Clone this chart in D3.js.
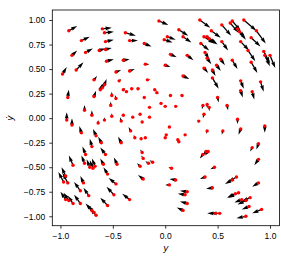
<!DOCTYPE html>
<html>
<head>
<meta charset="utf-8">
<script src="https://cdn.jsdelivr.net/npm/d3@7"></script>
<style>
  body { margin: 0; background: #fff; }
  svg { display: block; font-family: "DejaVu Sans", sans-serif; }
  .axis text { font-size: 8.5px; fill: #000; }
  .axis line { stroke: #000; stroke-width: 0.8; }
</style>
</head>
<body>
<svg id="chart" width="281" height="266"></svg>
<script>
// sample points: [y, ydot, dy, dydot]
var upperLeft = [
  [-0.92, 0.89, 0.08, 0.05], [-0.60, 0.91, 0.09, 0.01], [-0.58, 0.87, 0.09, 0.01],
  [-0.38, 0.87, 0.10, -0.03], [-0.34, 0.79, 0.08, 0.00], [-0.80, 0.79, 0.08, 0.04],
  [-0.57, 0.78, 0.08, 0.02], [-0.76, 0.67, 0.07, 0.04], [-0.63, 0.69, 0.06, 0.02],
  [-0.57, 0.70, 0.06, 0.015], [-0.89, 0.64, 0.05, 0.05], [-0.85, 0.49, 0.07, 0.08],
  [-0.56, 0.58, 0.07, 0.02], [-0.40, 0.59, 0.06, 0.01], [-0.98, 0.45, 0.04, 0.07],
  [-0.68, 0.39, 0.03, 0.04], [-0.47, 0.47, 0.05, 0.02], [-0.44, 0.38, 0.02, 0.02],
  [-0.34, 0.48, 0.05, 0.02], [-0.20, 0.76, 0.07, -0.03], [-0.19, 0.55, 0.04, 0.00],
  [-0.17, 0.39, 0.03, 0.00], [-0.93, 0.21, 0.01, 0.08], [-0.68, 0.22, 0.02, 0.06],
  [-0.62, 0.29, 0.02, 0.06], [-0.60, 0.31, 0.02, 0.06], [-0.58, 0.34, 0.02, 0.06],
  [-0.40, 0.29, 0.02, 0.015], [-0.37, 0.27, 0.02, 0.01], [-0.32, 0.30, 0.02, 0.00],
  [-0.26, 0.30, 0.02, 0.00], [-0.10, 0.29, 0.02, -0.01], [-0.08, 0.26, 0.02, -0.01],
  [-0.47, 0.20, -0.01, 0.035], [-0.51, 0.23, 0.00, 0.04], [-0.52, 0.13, 0.00, 0.04],
  [-0.20, 0.21, 0.01, 0.00], [-0.15, 0.11, 0.00, 0.00], [-0.04, 0.15, 0.00, 0.00],
  [0.00, 0.12, 0.00, 0.00], [-0.77, 0.08, 0.00, 0.055], [-0.70, 0.03, 0.00, 0.05],
  [-0.06, 0.99, 0.09, -0.04], [-0.01, 0.80, 0.08, -0.03], [-0.40, 0.03, 0.00, 0.02],
  [-0.31, 0.01, 0.00, 0.01], [-0.24, 0.04, 0.00, 0.00], [-0.15, 0.01, 0.00, 0.00],
  [-0.51, 0.02, 0.00, 0.03]
];

var upperRight = [
  [0.02, 0.83, 0.08, -0.03], [0.05, 0.65, 0.06, -0.03], [0.00, 0.54, 0.05, -0.02],
  [0.05, 0.23, 0.01, 0.00], [0.16, 0.23, 0.015, -0.015], [0.10, 0.12, 0.00, 0.00],
  [0.33, 1.00, 0.10, -0.08], [0.13, 0.90, 0.09, -0.06], [0.17, 0.83, 0.08, -0.06],
  [0.37, 0.83, 0.10, -0.07], [0.40, 0.83, 0.09, -0.07], [0.42, 0.81, 0.08, -0.06],
  [0.44, 0.89, 0.09, -0.07], [0.34, 0.76, 0.08, -0.07], [0.54, 0.95, 0.09, -0.11],
  [0.54, 0.78, 0.06, -0.09], [0.21, 0.64, 0.06, -0.05], [0.38, 0.67, 0.04, -0.07],
  [0.40, 0.61, 0.04, -0.06], [0.53, 0.60, 0.04, -0.06], [0.37, 0.51, 0.04, -0.05],
  [0.45, 0.49, 0.03, -0.06], [0.49, 0.54, 0.04, -0.06], [0.17, 0.43, 0.06, -0.03],
  [0.45, 0.41, 0.06, -0.11], [0.50, 0.21, 0.01, -0.05], [0.36, 0.13, -0.01, -0.04],
  [0.40, 0.14, 0.00, -0.04], [0.42, 0.11, 0.00, -0.04], [0.37, 0.04, -0.01, -0.04],
  [0.64, 0.99, 0.08, -0.10], [0.62, 0.97, 0.08, -0.10], [0.75, 1.00, 0.12, -0.11],
  [0.69, 0.91, 0.07, -0.09], [0.71, 0.88, 0.06, -0.08], [0.87, 0.89, 0.09, -0.13],
  [0.82, 0.82, 0.09, -0.09], [0.72, 0.78, 0.08, -0.09], [0.79, 0.69, 0.07, -0.11],
  [0.94, 0.68, 0.06, -0.12], [0.95, 0.64, 0.05, -0.11], [1.00, 0.64, 0.05, -0.13],
  [0.64, 0.59, 0.05, -0.09], [0.82, 0.57, 0.06, -0.11], [0.72, 0.38, 0.03, -0.08],
  [0.72, 0.28, 0.02, -0.07], [0.83, 0.27, 0.02, -0.08], [0.91, 0.37, 0.03, -0.10],
  [0.59, 0.13, 0.01, -0.05]
];

var lowerLeft = [
  [-0.58, -0.02, 0.00, 0.03], [-0.64, -0.05, 0.00, 0.03], [-0.22, -0.04, 0.00, 0.00],
  [-0.94, -0.02, 0.00, 0.08], [-0.89, -0.07, 0.00, 0.07], [-0.80, -0.15, -0.02, 0.07],
  [-0.66, -0.18, -0.03, 0.07], [-0.70, -0.29, -0.02, 0.08], [-0.61, -0.25, -0.03, 0.06],
  [-0.76, -0.37, -0.03, 0.08], [-0.88, -0.48, -0.04, 0.10], [-0.77, -0.46, -0.03, 0.08],
  [-0.72, -0.50, -0.03, 0.08], [-0.69, -0.51, -0.03, 0.08], [-0.67, -0.49, -0.03, 0.08],
  [-0.59, -0.47, -0.03, 0.06], [-0.55, -0.57, -0.04, 0.07], [-0.95, -0.59, -0.04, 0.09],
  [-0.97, -0.65, -0.05, 0.10], [-0.93, -0.66, -0.05, 0.10], [-0.78, -0.66, -0.03, 0.07],
  [-0.73, -0.79, -0.05, 0.08], [-0.95, -0.83, -0.05, 0.08], [-0.92, -0.84, -0.05, 0.08],
  [-0.88, -0.87, -0.05, 0.08], [-0.81, -0.87, -0.06, 0.09], [-0.70, -0.94, -0.06, 0.07],
  [-0.68, -0.96, -0.06, 0.07], [-0.66, -0.99, -0.06, 0.07], [-0.57, -0.37, -0.05, 0.07],
  [-0.46, -0.47, -0.03, 0.07], [-0.47, -0.67, -0.07, 0.06], [-0.49, -0.78, -0.07, 0.08],
  [-0.55, -0.89, -0.07, 0.08], [-0.34, -0.83, -0.07, 0.06], [-0.81, -0.74, -0.06, 0.09],
  [-0.42, -0.03, -0.01, 0.04], [-0.33, -0.13, -0.02, 0.04], [-0.29, -0.20, -0.01, 0.03],
  [-0.23, -0.21, -0.01, 0.01], [-0.19, -0.20, 0.00, 0.01], [-0.42, -0.25, -0.03, 0.06],
  [-0.22, -0.35, -0.02, 0.03], [-0.21, -0.41, -0.02, 0.03], [-0.16, -0.46, -0.03, 0.02],
  [-0.12, -0.45, -0.03, 0.02], [-0.24, -0.49, -0.03, 0.03], [-0.21, -0.62, -0.05, 0.04]
];

var lowerRight = [
  [0.04, -0.09, 0, 0], [0.00, -0.20, 0, 0], [0.01, -0.17, 0, 0],
  [0.12, -0.22, 0, 0], [0.13, -0.24, 0, 0], [0.19, -0.17, 0, 0],
  [0.32, -0.03, 0.00, -0.02], [0.40, -0.13, -0.01, -0.03], [0.55, -0.13, -0.01, -0.04],
  [0.36, -0.37, -0.03, -0.04], [0.39, -0.34, -0.03, -0.04], [0.41, -0.34, -0.03, -0.04],
  [0.06, -0.51, -0.03, 0.01], [0.47, -0.50, -0.04, -0.02], [0.10, -0.63, -0.06, 0.01],
  [0.38, -0.60, -0.05, -0.02], [0.04, -0.68, -0.04, 0.00], [0.21, -0.75, -0.07, 0.01],
  [0.19, -0.78, -0.07, 0.01], [0.45, -0.71, -0.06, -0.01], [0.21, -0.87, -0.07, 0.02],
  [0.17, -0.94, -0.06, 0.03], [0.52, -0.97, -0.09, 0.00], [0.48, -0.97, -0.08, 0.00],
  [0.69, -0.01, 0.00, -0.05], [0.72, -0.11, -0.02, -0.06], [0.95, -0.08, 0.00, -0.07],
  [0.83, -0.30, -0.02, -0.04], [0.89, -0.26, -0.02, -0.06], [0.89, -0.42, -0.04, -0.06],
  [0.68, -0.60, -0.08, -0.05], [0.64, -0.63, -0.07, -0.04], [0.89, -0.66, -0.06, -0.04],
  [0.70, -0.76, -0.10, -0.05], [0.67, -0.77, -0.08, -0.04], [0.81, -0.81, -0.08, -0.04],
  [0.77, -0.84, -0.08, -0.04], [0.73, -0.83, -0.07, -0.03], [0.80, -0.90, -0.07, -0.03],
  [0.92, -0.93, -0.09, -0.04], [0.77, -1.00, -0.09, -0.02]
];

var xTicks = [-1.0, -0.5, 0.0, 0.5, 1.0];
var yTicks = [-1.0, -0.75, -0.5, -0.25, 0.0, 0.25, 0.5, 0.75, 1.0];

var samples = upperLeft.concat(upperRight, lowerLeft, lowerRight);

// plot frame in pixels
var frame = {left: 52.3, right: 279.5, top: 10, bottom: 225.7};

var x = d3.scaleLinear().domain([-1.0777, 1.0906]).range([frame.left, frame.right]);
var y = d3.scaleLinear().domain([-1.096, 1.102]).range([frame.bottom, frame.top]);

var svg = d3.select("#chart");

// quiver arrow as a polygon, tail at the origin, pointing along +x
var shaftW = 1.3;
function arrowShape(len) {
    var hl = 5 * shaftW, hal = 4.5 * shaftW, hw = 1.5 * shaftW, h = shaftW / 2;
    if (len < hl) {
        var s = len / hl;
        hl *= s; hal *= s; hw *= s; h *= s;
    }
    return "M0," + (-h) + "L" + (len - hal) + "," + (-h) +
        "L" + (len - hl) + "," + (-hw) + "L" + len + ",0" +
        "L" + (len - hl) + "," + hw + "L" + (len - hal) + "," + h +
        "L0," + h + "Z";
}

var arrows = svg.append("g").attr("class", "arrows");
samples.forEach(function(d) {
    var x0 = x(d[0]), y0 = y(d[1]);
    var x1 = x(d[0] + d[2]), y1 = y(d[1] + d[3]);
    var len = Math.sqrt((x1 - x0) * (x1 - x0) + (y1 - y0) * (y1 - y0));
    if (len < 1) return;
    var ang = Math.atan2(y1 - y0, x1 - x0) * 180 / Math.PI;
    arrows.append("path")
        .attr("d", arrowShape(len))
        .attr("transform", "translate(" + x0 + "," + y0 + ") rotate(" + ang + ")")
        .attr("fill", "#000");
});

svg.append("g").attr("class", "dots")
    .selectAll("circle")
    .data(samples)
    .enter().append("circle")
    .attr("cx", function(d) { return x(d[0]); })
    .attr("cy", function(d) { return y(d[1]); })
    .attr("r", 1.7)
    .attr("fill", "#ff0000");

// axes
var xAxis = svg.append("g")
    .attr("class", "axis")
    .attr("transform", "translate(0," + frame.bottom + ")")
    .call(d3.axisBottom(x).tickValues(xTicks).tickFormat(d3.format(".1f"))
        .tickSize(3).tickPadding(4).tickSizeOuter(0));
xAxis.select(".domain").remove();

var yAxis = svg.append("g")
    .attr("class", "axis")
    .attr("transform", "translate(" + frame.left + ",0)")
    .call(d3.axisLeft(y).tickValues(yTicks).tickFormat(d3.format(".2f"))
        .tickSize(3).tickPadding(4).tickSizeOuter(0));
yAxis.select(".domain").remove();

svg.append("rect")
    .attr("x", frame.left)
    .attr("y", frame.top)
    .attr("width", frame.right - frame.left)
    .attr("height", frame.bottom - frame.top)
    .attr("fill", "none")
    .attr("stroke", "#000")
    .attr("stroke-width", 0.8);

// axis labels
svg.append("text")
    .attr("x", (frame.left + frame.right) / 2)
    .attr("y", 251)
    .attr("text-anchor", "middle")
    .style("font-size", "9px")
    .style("font-style", "italic")
    .text("y");

svg.append("text")
    .attr("transform", "translate(13,118) rotate(-90)")
    .attr("text-anchor", "middle")
    .style("font-size", "9px")
    .style("font-style", "italic")
    .text("ẏ");
</script>
</body>
</html>
